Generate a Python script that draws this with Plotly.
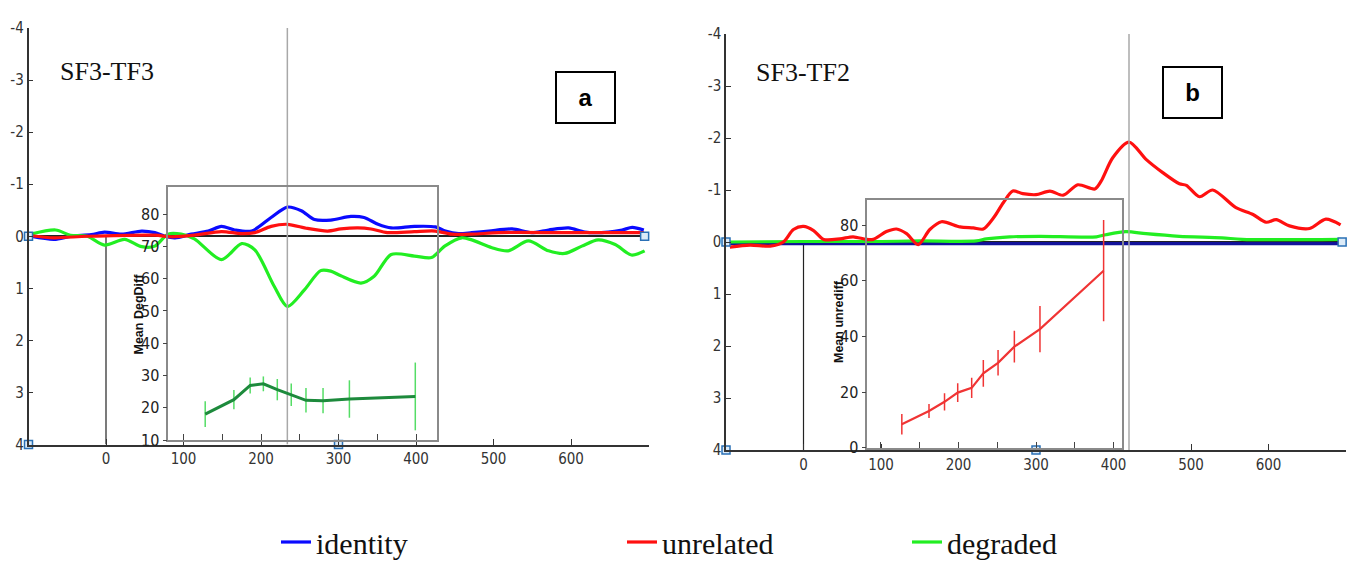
import plotly.graph_objects as go

W, H = 1351, 564

# ---------------- data ----------------
# Panel a (SF3-TF3) waveforms: time (ms), amplitude (µV)
t_identity_a = [-97, -67, -45, -19, -2, 20, 46, 63, 76, 89, 110, 132, 149, 166, 188, 213, 234, 252, 269,
                290, 316, 333, 351, 368, 398, 425, 438, 455, 472, 494, 524, 549, 571, 597, 618, 648, 666, 679, 694]
v_identity_a = [0.0, 0.06, 0.0, -0.03, -0.08, -0.04, -0.1, -0.07, 0.0, 0.03, -0.04, -0.1, -0.19, -0.12, -0.1,
                -0.36, -0.56, -0.49, -0.32, -0.31, -0.38, -0.36, -0.23, -0.16, -0.19, -0.18, -0.1, -0.05,
                -0.07, -0.1, -0.14, -0.07, -0.12, -0.16, -0.08, -0.08, -0.12, -0.17, -0.12]

t_unrelated_a = [-97, -67, -24, 63, 84, 114, 149, 175, 192, 213, 234, 260, 286, 303, 325, 342, 363, 398,
                 425, 446, 472, 507, 592, 694]
v_unrelated_a = [-0.01, 0.03, 0.0, -0.02, 0.01, -0.02, -0.09, -0.05, -0.07, -0.19, -0.23, -0.15, -0.1, -0.14,
                 -0.16, -0.14, -0.07, -0.09, -0.1, -0.04, -0.04, -0.07, -0.07, -0.07]

t_degraded_a = [-97, -65, -46, -24, -2, 24, 46, 63, 80, 97, 114, 149, 175, 192, 217, 234, 256, 277, 290,
                303, 329, 346, 368, 398, 420, 437, 459, 472, 498, 519, 545, 571, 592, 614, 635, 657, 678, 695]
v_degraded_a = [-0.04, -0.12, -0.02, 0.0, 0.17, 0.06, 0.2, 0.19, -0.04, -0.04, 0.05, 0.45, 0.14, 0.26, 0.96,
                1.35, 1.03, 0.66, 0.67, 0.76, 0.9, 0.77, 0.35, 0.38, 0.41, 0.19, 0.03, 0.07, 0.22, 0.28,
                0.09, 0.28, 0.33, 0.19, 0.07, 0.16, 0.36, 0.28]

# Panel b (SF3-TF2) waveforms
t_identity_b = [-97, 0, 100, 200, 300, 400, 500, 600, 694]
v_identity_b = [0.03, 0.03, 0.03, 0.03, 0.03, 0.03, 0.03, 0.03, 0.03]

t_unrelated_b = [-95, -69, -43, -26, -13, 0, 13, 26, 47, 64, 81, 90, 107, 120, 133, 148, 163, 178, 202,
                 219, 232, 245, 258, 270, 283, 300, 318, 335, 354, 376, 384, 399, 420, 442, 464, 485, 494,
                 511, 528, 558, 580, 597, 610, 627, 653, 674, 693]
v_unrelated_b = [0.1, 0.06, 0.08, 0.0, -0.24, -0.3, -0.22, -0.05, -0.06, -0.1, -0.05, -0.05, -0.2, -0.25,
                 -0.16, 0.05, -0.24, -0.39, -0.29, -0.27, -0.25, -0.46, -0.76, -0.98, -0.93, -0.91, -0.98,
                 -0.9, -1.1, -1.02, -1.17, -1.62, -1.92, -1.59, -1.33, -1.12, -1.09, -0.87, -1.0, -0.66,
                 -0.53, -0.38, -0.43, -0.31, -0.26, -0.44, -0.33]

t_degraded_b = [-95, 0, 100, 150, 223, 236, 266, 305, 378, 390, 416, 442, 485, 540, 566, 693]
v_degraded_b = [0.0, -0.01, -0.01, -0.02, -0.02, -0.06, -0.1, -0.11, -0.1, -0.14, -0.2, -0.16, -0.11,
                -0.08, -0.05, -0.05]

# Insets: mean difference with error bars
inset_a_t = [128, 165, 186, 203, 221, 239, 258, 280, 314, 399]
inset_a_mean = [18.0, 22.5, 26.9, 27.4, 25.6, 24.0, 22.3, 22.2, 22.7, 23.5]
inset_a_err = [4.0, 3.0, 2.5, 2.3, 3.3, 3.5, 3.8, 3.9, 5.8, 10.5]

inset_b_t = [127, 162, 182, 199, 217, 232, 251, 272, 305, 387]
inset_b_mean = [8.4, 13.2, 16.5, 19.8, 21.5, 26.7, 30.5, 36.3, 42.6, 63.6]
inset_b_err = [3.7, 2.5, 3.1, 3.4, 3.6, 4.8, 4.6, 5.7, 8.3, 18.2]

# Cursor lines / markers
peak_a = 234
peak_b = 420
cursor_x = [-100, 695, -100, 300]
cursor_y = [0, 0, 4, 4]

main_x_ticks = [0, 100, 200, 300, 400, 500, 600]
main_y_ticks = [-4, -3, -2, -1, 0, 1, 2, 3, 4]
main_y_labels = ["-4", "-3", "-2", "-1", "0", "1", "2", "3", "4"]
inset_a_yticks = [10, 20, 30, 40, 50, 60, 70, 80]
inset_b_yticks = [0, 20, 40, 60, 80]
inset_x_ticks = [100, 150, 200, 250, 300, 350, 400]

legend_names = ["identity", "unrelated", "degraded"]

# ---------------- styles ----------------
NARROW = "Liberation Sans Narrow, Arial Narrow, DejaVu Sans Condensed, Liberation Sans, Arial"
SERIF = "Liberation Serif, Times New Roman, serif"
C_ID_A = "#0a0aff"
C_ID_B = "#12129a"
C_UN = "#ff1010"
C_DEG = "#22ee22"


def px(x):
    return x / W


def py(y):
    return 1 - y / H


fig = go.Figure()

# ---- panel a ----
fig.add_trace(go.Scatter(x=[0, 0], y=[0, 4], mode="lines", line=dict(color="#222", width=1.2),
                         xaxis="x", yaxis="y", showlegend=False, hoverinfo="skip"))
fig.add_trace(go.Scatter(x=t_identity_a, y=v_identity_a, mode="lines", name=legend_names[0],
                         line=dict(color=C_ID_A, width=3.2, shape="spline", smoothing=0.8),
                         xaxis="x", yaxis="y", legend="legend"))
fig.add_trace(go.Scatter(x=t_degraded_a, y=v_degraded_a, mode="lines", name=legend_names[2],
                         line=dict(color=C_DEG, width=3.2, shape="spline", smoothing=0.8),
                         xaxis="x", yaxis="y", legend="legend3"))
fig.add_trace(go.Scatter(x=t_unrelated_a, y=v_unrelated_a, mode="lines", name=legend_names[1],
                         line=dict(color=C_UN, width=3.2, shape="spline", smoothing=0.8),
                         xaxis="x", yaxis="y", legend="legend2"))
fig.add_trace(go.Scatter(x=[peak_a, peak_a], y=[4, -4], mode="lines", line=dict(color="#a8a8a8", width=1.5),
                         xaxis="x", yaxis="y", showlegend=False, hoverinfo="skip"))
fig.add_trace(go.Scatter(x=cursor_x, y=cursor_y, mode="markers", cliponaxis=False,
                         marker=dict(symbol="square", size=8, color="#dcebf8",
                                     line=dict(color="#2a70b5", width=1.5)),
                         xaxis="x", yaxis="y", showlegend=False, hoverinfo="skip"))

# inset a
fig.add_trace(go.Scatter(x=inset_a_t, y=inset_a_mean, mode="lines",
                         line=dict(color="#1d8a3c", width=3),
                         error_y=dict(type="data", array=inset_a_err, visible=True, color="#55dd66",
                                      thickness=1.5, width=0),
                         xaxis="x2", yaxis="y2", showlegend=False))

# ---- panel b ----
fig.add_trace(go.Scatter(x=[0, 0], y=[0, 4], mode="lines", line=dict(color="#222", width=1.2),
                         xaxis="x3", yaxis="y3", showlegend=False, hoverinfo="skip"))
fig.add_trace(go.Scatter(x=t_identity_b, y=v_identity_b, mode="lines", name=legend_names[0],
                         line=dict(color=C_ID_B, width=3.2),
                         xaxis="x3", yaxis="y3", showlegend=False))
fig.add_trace(go.Scatter(x=t_degraded_b, y=v_degraded_b, mode="lines", name=legend_names[2],
                         line=dict(color=C_DEG, width=3.2, shape="spline", smoothing=0.8),
                         xaxis="x3", yaxis="y3", showlegend=False))
fig.add_trace(go.Scatter(x=t_unrelated_b, y=v_unrelated_b, mode="lines", name=legend_names[1],
                         line=dict(color=C_UN, width=3.2, shape="spline", smoothing=0.8),
                         xaxis="x3", yaxis="y3", showlegend=False))
fig.add_trace(go.Scatter(x=[peak_b, peak_b], y=[4, -4], mode="lines", line=dict(color="#a8a8a8", width=1.5),
                         xaxis="x3", yaxis="y3", showlegend=False, hoverinfo="skip"))
fig.add_trace(go.Scatter(x=cursor_x, y=cursor_y, mode="markers", cliponaxis=False,
                         marker=dict(symbol="square", size=8, color="#dcebf8",
                                     line=dict(color="#2a70b5", width=1.5)),
                         xaxis="x3", yaxis="y3", showlegend=False, hoverinfo="skip"))

# inset b
fig.add_trace(go.Scatter(x=inset_b_t, y=inset_b_mean, mode="lines",
                         line=dict(color="#f03434", width=2.2),
                         error_y=dict(type="data", array=inset_b_err, visible=True, color="#f03434",
                                      thickness=1.5, width=0),
                         xaxis="x4", yaxis="y4", showlegend=False))

tickfont_main = dict(family=NARROW, size=15, color="#333")
tickfont_inset = dict(family=NARROW, size=16, color="#222")

main_x = dict(range=[-100, 700], showline=True, linecolor="#333", linewidth=1.5, ticks="inside",
              tickvals=main_x_ticks, ticklen=6, tickcolor="#333", showgrid=False, zeroline=False,
              tickfont=tickfont_main, automargin=False)
main_y = dict(range=[4, -4], showline=True, linecolor="#333", linewidth=1.5, ticks="inside",
              tickvals=main_y_ticks, ticktext=main_y_labels, ticklen=5, tickcolor="#333",
              showgrid=False, zeroline=True, zerolinecolor="#222", zerolinewidth=2,
              tickfont=tickfont_main, automargin=False)
inset_x = dict(showline=True, mirror=True, linecolor="#8a8a8a", linewidth=1.5, ticks="inside",
               tickvals=inset_x_ticks, ticklen=6, tickcolor="#444", showticklabels=False,
               showgrid=False, zeroline=False, automargin=False)
inset_y = dict(showline=True, mirror=True, linecolor="#8a8a8a", linewidth=1.5, ticks="outside",
               ticklen=4, tickcolor="#444", showgrid=False, zeroline=False, tickfont=tickfont_inset,
               automargin=False)

legend_common = dict(y=py(542), xanchor="left", yanchor="middle", orientation="h", itemwidth=30,
                     bgcolor="rgba(0,0,0,0)", borderwidth=0,
                     font=dict(family=SERIF, size=30, color="#111"))

fig.update_layout(
    width=W, height=H,
    margin=dict(l=0, r=0, t=0, b=0, pad=0, autoexpand=False),
    paper_bgcolor="white", plot_bgcolor="rgba(0,0,0,0)",
    xaxis=dict(main_x, domain=[px(28.5), px(648.5)], anchor="y"),
    yaxis=dict(main_y, domain=[py(444.5), py(28)], anchor="x"),
    xaxis2=dict(inset_x, range=[80.4, 427], domain=[px(168.3), px(437)], anchor="y2"),
    yaxis2=dict(inset_y, range=[10, 88.4], tickvals=inset_a_yticks, domain=[py(440), py(187)], anchor="x2"),
    xaxis3=dict(main_x, domain=[px(726), px(1346)], anchor="y3"),
    yaxis3=dict(main_y, domain=[py(450), py(34)], anchor="x3"),
    xaxis4=dict(inset_x, range=[82.5, 410.7], domain=[px(867.3), px(1122)], anchor="y4"),
    yaxis4=dict(inset_y, range=[0, 89], tickvals=inset_b_yticks, domain=[py(447.7), py(200)], anchor="x4"),
    legend=dict(legend_common, x=px(276)),
    legend2=dict(legend_common, x=px(622)),
    legend3=dict(legend_common, x=px(907)),
    showlegend=True,
)

annotations = [
    dict(text="SF3-TF3", x=px(58), y=py(71), xref="paper", yref="paper", xanchor="left", yanchor="middle",
         showarrow=False, font=dict(family=SERIF, size=26, color="#111")),
    dict(text="SF3-TF2", x=px(754), y=py(73), xref="paper", yref="paper", xanchor="left", yanchor="middle",
         showarrow=False, font=dict(family=SERIF, size=26, color="#111")),
    dict(text="<b>a</b>", x=px(585), y=py(97.4), xref="paper", yref="paper", xanchor="center",
         yanchor="middle", showarrow=False, width=55, height=47, borderpad=1, borderwidth=2,
         bordercolor="#000", bgcolor="white", font=dict(family="Liberation Sans, Arial", size=24, color="#000")),
    dict(text="<b>b</b>", x=px(1192.7), y=py(92.4), xref="paper", yref="paper", xanchor="center",
         yanchor="middle", showarrow=False, width=55, height=47, borderpad=1, borderwidth=2,
         bordercolor="#000", bgcolor="white", font=dict(family="Liberation Sans, Arial", size=24, color="#000")),
    dict(text="<b>Mean DegDiff</b>", x=px(138.5), y=py(314), xref="paper", yref="paper", xanchor="center",
         yanchor="middle", textangle=-90, showarrow=False,
         font=dict(family="Liberation Sans, Arial", size=12.5, color="#111")),
    dict(text="<b>Mean unrediff</b>", x=px(839), y=py(322), xref="paper", yref="paper", xanchor="center",
         yanchor="middle", textangle=-90, showarrow=False,
         font=dict(family="Liberation Sans, Arial", size=12.5, color="#111")),
]
fig.update_layout(annotations=annotations)

fig.write_html("out.html", config={"displayModeBar": False},
               post_script="document.body.style.margin='0px';document.body.style.overflow='hidden';")
